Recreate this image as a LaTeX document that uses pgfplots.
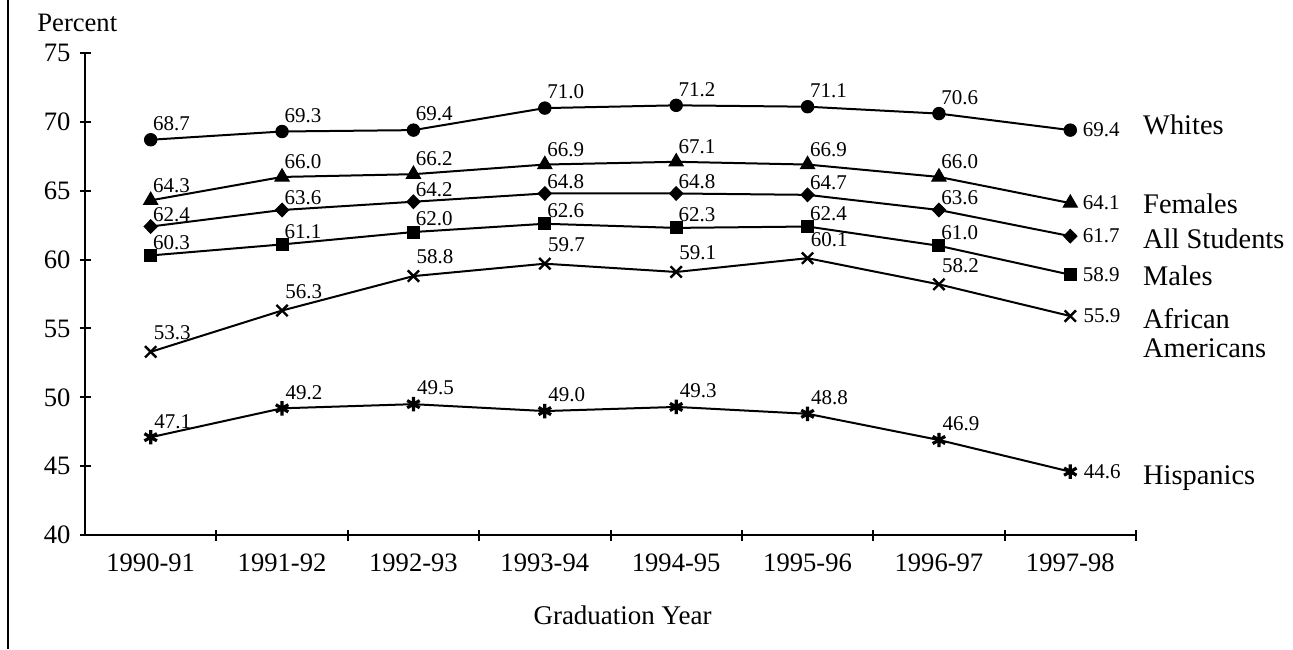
\documentclass[border=0pt]{standalone}
\usepackage{fontspec}
\setmainfont{Liberation Serif}
\usepackage{pgfplots}
\pgfplotsset{compat=1.18}
\tikzset{namelbl/.style={anchor=base west, inner sep=0pt, font=\fontsize{14.2}{16}\selectfont}}
\begin{document}
\begin{tikzpicture}
\useasboundingbox (0,0) rectangle (646.5pt,324.5pt);
\draw[line width=1pt] (3.8pt,0) -- (3.8pt,324.5pt);
\node[anchor=base west, inner sep=0, font=\fontsize{13.3}{15}\selectfont] at (18.5pt,308.5pt) {Percent};
\begin{axis}[
 at={(42.5pt,57pt)}, anchor=south west,
 scale only axis, width=525.5pt, height=241pt,
 xmin=-0.5, xmax=7.5, ymin=40, ymax=75,
 axis x line*=bottom, axis y line*=left,
 axis line style={-, line width=1pt, black},
 xtick={0.5,1.5,...,7.5},
 xticklabels={},
 extra x ticks={0,...,7},
 extra x tick labels={1990-91,1991-92,1992-93,1993-94,1994-95,1995-96,1996-97,1997-98},
 extra x tick style={major tick length=0pt, xticklabel style={yshift=-6pt}},
 ytick={40,45,...,75},
 tick align=center, major tick length=5.5pt,
 tick style={black, line width=1pt},
 ticklabel style={font=\fontsize{13.3}{15}\selectfont},
 yticklabel style={xshift=-1pt},
 /pgf/number format/assume math mode=true,
 clip=false,
 every axis plot/.append style={black, line width=1pt},
 nodes near coords={\pgfmathprintnumber[fixed,zerofill,precision=1]{\pgfplotspointmeta}},
 point meta=y,
 lab/.style={
   visualization depends on={ifthenelse(\thisrow{x}==7,5,0) \as \dx},
   visualization depends on={ifthenelse(\thisrow{x}==7,0,#1) \as \dy}},
 every node near coord/.append style={anchor=west, inner sep=1pt, font=\fontsize{10.5}{12}\selectfont, xshift=\dx pt, yshift=\dy pt, black},
]
% Whites
\addplot[lab=8, mark=*, mark size=3.1pt, mark options={solid, line width=0.5pt}] table {
x y
0 68.7
1 69.3
2 69.4
3 71.0
4 71.2
5 71.1
6 70.6
7 69.4
};
% Females
\addplot[lab=7.5, mark=triangle*, mark size=4.1pt, mark options={solid, line width=0.5pt}] table {
x y
0 64.3
1 66.0
2 66.2
3 66.9
4 67.1
5 66.9
6 66.0
7 64.1
};
% All Students
\addplot[lab=6, mark=diamond*, mark size=3.4pt, mark options={solid, line width=0.5pt, xscale=1.3}] table {
x y
0 62.4
1 63.6
2 64.2
3 64.8
4 64.8
5 64.7
6 63.6
7 61.7
};
% Males
\addplot[lab=6.5, mark=square*, mark size=3pt, mark options={solid, line width=0.5pt}] table {
x y
0 60.3
1 61.1
2 62.0
3 62.6
4 62.3
5 62.4
6 61.0
7 58.9
};
% African Americans
\addplot[lab=9.5, mark=x, mark size=4pt, mark options={solid, line width=1.2pt}] table {
x y
0 53.3
1 56.3
2 58.8
3 59.7
4 59.1
5 60.1
6 58.2
7 55.9
};
% Hispanics
\addplot[lab=8, mark=asterisk, mark size=3.6pt, mark options={solid, line width=1.6pt}] table {
x y
0 47.1
1 49.2
2 49.5
3 49.0
4 49.3
5 48.8
6 46.9
7 44.6
};
\node[namelbl] at ([xshift=36.25pt]axis cs:7,69.05) {Whites};
\node[namelbl] at ([xshift=36.25pt]axis cs:7,63.38) {Females};
\node[namelbl] at ([xshift=36.25pt]axis cs:7,60.84) {All Students};
\node[namelbl] at ([xshift=36.25pt]axis cs:7,58.15) {Males};
\node[namelbl] at ([xshift=36.25pt]axis cs:7,54.96) {African};
\node[namelbl] at ([xshift=36.25pt]axis cs:7,52.92) {Americans};
\node[namelbl] at ([xshift=36.25pt]axis cs:7,43.7) {Hispanics};
\node[font=\fontsize{13.5}{15}\selectfont, anchor=center] at ([xshift=6pt,yshift=-40pt]axis cs:3.5,40) {Graduation Year};
\end{axis}
\end{tikzpicture}
\end{document}
